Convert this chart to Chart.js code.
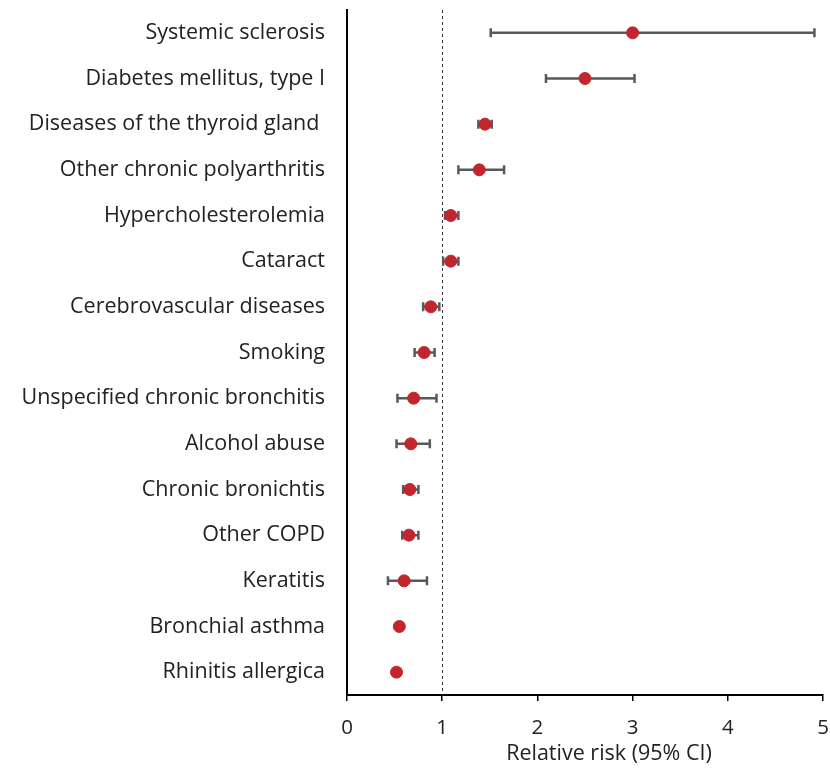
<!DOCTYPE html>
<html>
<head>
<meta charset="utf-8">
<script src="https://cdn.jsdelivr.net/npm/chart.js@4.4.1/dist/chart.umd.min.js"></script>
<style>
  html, body { margin: 0; padding: 0; background: #fff; }
  #wrap { width: 830px; height: 769px; }
</style>
</head>
<body>
<div id="wrap"><canvas id="chart" width="830" height="769"></canvas></div>
<script>
// categories, top to bottom
const conditions = [
    'Systemic sclerosis',
    'Diabetes mellitus, type I',
    'Diseases of the thyroid gland ',
    'Other chronic polyarthritis',
    'Hypercholesterolemia',
    'Cataract',
    'Cerebrovascular diseases',
    'Smoking',
    'Unspecified chronic bronchitis',
    'Alcohol abuse',
    'Chronic bronichtis',
    'Other COPD',
    'Keratitis',
    'Bronchial asthma',
    'Rhinitis allergica'
];
// relative risk and 95% CI
const relRisk = [3.00, 2.50, 1.45, 1.39, 1.09, 1.09, 0.88, 0.81, 0.70, 0.67, 0.66, 0.65, 0.60, 0.55, 0.52];
const ciLow   = [1.51, 2.09, 1.38, 1.17, 1.03, 1.01, 0.80, 0.71, 0.53, 0.52, 0.59, 0.58, 0.43, 0.52, 0.50];
const ciHigh  = [4.91, 3.02, 1.52, 1.65, 1.17, 1.17, 0.97, 0.92, 0.94, 0.87, 0.75, 0.75, 0.84, 0.58, 0.54];
const xTicks = [0, 1, 2, 3, 4, 5];
const refLine = 1;
const axisTitle = 'Relative risk (95% CI)';

const FONT = "'Open Sans', sans-serif";

// error bars, reference line and axis title
const forestPlugin = {
    id: 'forest',
    beforeDatasetsDraw(chart) {
        const ctx = chart.ctx;
        const xs = chart.scales.x;
        const ys = chart.scales.y;
        const area = chart.chartArea;

        // dashed line at RR = 1
        ctx.save();
        ctx.strokeStyle = '#333';
        ctx.lineWidth = 1;
        ctx.setLineDash([3, 3]);
        const xr = Math.round(xs.getPixelForValue(refLine)) + 0.5;
        ctx.beginPath();
        ctx.moveTo(xr, area.top);
        ctx.lineTo(xr, area.bottom);
        ctx.stroke();
        ctx.restore();

        ctx.save();
        ctx.strokeStyle = '#595959';
        ctx.lineWidth = 2.5;
        conditions.forEach((c, i) => {
            const y = ys.getPixelForValue(i);
            const x1 = xs.getPixelForValue(ciLow[i]);
            const x2 = xs.getPixelForValue(ciHigh[i]);
            ctx.beginPath();
            ctx.moveTo(x1, y);
            ctx.lineTo(x2, y);
            ctx.moveTo(x1, y - 4.5);
            ctx.lineTo(x1, y + 4.5);
            ctx.moveTo(x2, y - 4.5);
            ctx.lineTo(x2, y + 4.5);
            ctx.stroke();
        });
        ctx.restore();
    },
    afterDraw(chart) {
        const ctx = chart.ctx;
        const area = chart.chartArea;
        ctx.save();
        ctx.fillStyle = '#222';
        ctx.font = '21.5px ' + FONT;
        ctx.textAlign = 'center';
        ctx.textBaseline = 'middle';
        ctx.fillText(axisTitle, (area.left + area.right) / 2 + 24, 754);
        ctx.restore();
    }
};

const chart = new Chart(document.getElementById('chart'), {
    type: 'scatter',
    data: {
        labels: conditions,
        datasets: [{
            data: relRisk.map((v, i) => ({ x: v, y: conditions[i] })),
            backgroundColor: '#c0262c',
            borderColor: '#c0262c',
            pointRadius: 6,
            pointHoverRadius: 6
        }]
    },
    options: {
        responsive: false,
        animation: false,
        layout: { padding: { top: 10, right: 6, left: 0, bottom: 0 } },
        plugins: {
            legend: { display: false },
            tooltip: { enabled: false }
        },
        scales: {
            x: {
                type: 'linear',
                min: 0,
                max: 5,
                afterBuildTicks: s => { s.ticks = xTicks.map(v => ({ value: v })); },
                grid: {
                    drawOnChartArea: false,
                    drawTicks: true,
                    tickLength: 6,
                    color: '#000',
                    lineWidth: 1.5
                },
                border: { display: true, color: '#000', width: 2 },
                ticks: {
                    color: '#222',
                    font: { family: FONT, size: 20.5 },
                    padding: 15,
                    maxRotation: 0
                },
                afterFit: s => {
                    s.height = 74;
                    s.paddingLeft = 0;
                    s.paddingRight = 0;
                }
            },
            y: {
                type: 'category',
                labels: conditions,
                offset: true,
                grid: { display: false, drawTicks: false },
                border: { display: true, color: '#000', width: 2 },
                ticks: {
                    color: '#222',
                    font: { family: FONT, size: 21.5 },
                    padding: 22
                },
                afterFit: s => {
                    s.width = 347;
                    s.paddingTop = 0;
                    s.paddingBottom = 0;
                }
            }
        }
    },
    plugins: [forestPlugin]
});
</script>
</body>
</html>
